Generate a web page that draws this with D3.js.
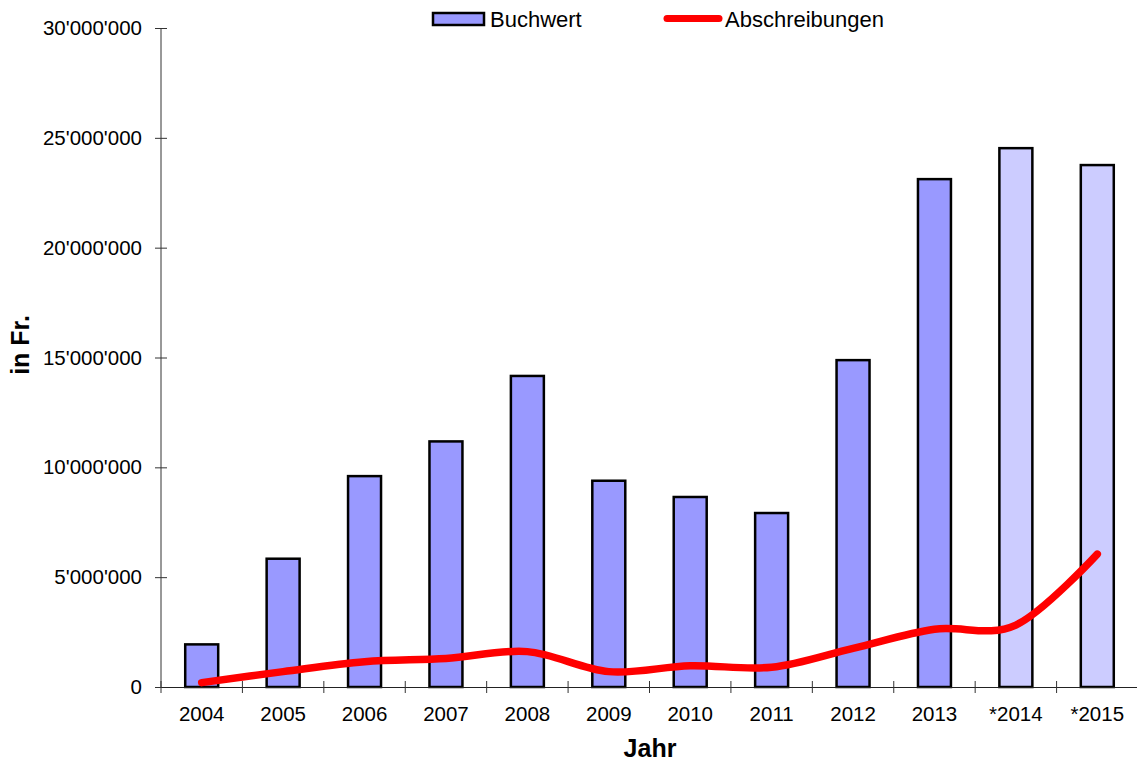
<!DOCTYPE html>
<html>
<head>
<meta charset="utf-8">
<script src="https://cdn.jsdelivr.net/npm/d3@7"></script>
<style>
  html, body { margin: 0; padding: 0; background: #fff; }
  svg { display: block; font-family: "Liberation Sans", Arial, sans-serif; }
</style>
</head>
<body>
<svg id="chart" width="1137" height="762"></svg>
<script>
// Jahre (mit * = Budget/Prognose)
const years = ["2004", "2005", "2006", "2007", "2008", "2009", "2010", "2011", "2012", "2013", "*2014", "*2015"];
// Buchwert in Fr.
const buchwert = [1940000, 5840000, 9600000, 11180000, 14160000, 9390000, 8650000, 7920000, 14880000, 23120000, 24530000, 23760000];
// Abschreibungen in Fr.
const abschreibungen = [200000, 700000, 1150000, 1300000, 1610000, 700000, 970000, 900000, 1760000, 2630000, 2820000, 6050000];
// Prognosejahre werden heller dargestellt
const prognose = [false, false, false, false, false, false, false, false, false, false, true, true];
const yTicks = [0, 5000000, 10000000, 15000000, 20000000, 25000000, 30000000];

const svg = d3.select("#chart");
const plotLeft = 161, plotRight = 1138, plotTop = 28, plotBottom = 687;

const x = d3.scaleBand().domain(years).range([plotLeft, plotRight]).padding(0);
const y = d3.scaleLinear().domain([0, 30000000]).range([plotBottom, plotTop]);
const fmt = d3.formatLocale({ decimal: ".", thousands: "'", grouping: [3], currency: ["", ""] }).format(",d");

const barW = x.bandwidth() * 0.405;
const colBar = "#9999FF", colBarLight = "#CCCCFF";

// Balken
svg.append("g").selectAll("rect")
  .data(years.map((d, i) => ({ year: d, value: buchwert[i], light: prognose[i] })))
  .join("rect")
  .attr("x", d => x(d.year) + x.bandwidth() / 2 - barW / 2)
  .attr("y", d => y(d.value))
  .attr("width", barW)
  .attr("height", d => y(0) - y(d.value))
  .attr("fill", d => d.light ? colBarLight : colBar)
  .attr("stroke", "#000")
  .attr("stroke-width", 2.5);

// Y-Achse
const yAxis = svg.append("g")
  .attr("transform", `translate(${plotLeft},0)`)
  .call(d3.axisLeft(y).tickValues(yTicks).tickFormat(fmt).tickSize(6).tickSizeOuter(0));
yAxis.select(".domain").attr("stroke", "#333").attr("d", `M0,${plotTop}V${plotBottom}`);
yAxis.selectAll(".tick line").attr("stroke", "#333").attr("x1", 6);
yAxis.selectAll(".tick text")
  .attr("x", -19)
  .attr("font-size", 20.5)
  .attr("font-family", "Liberation Sans, Arial, sans-serif")
  .attr("fill", "#000");

// X-Achse
const xAxis = svg.append("g")
  .attr("transform", `translate(0,${plotBottom})`)
  .call(d3.axisBottom(x).tickSize(0).tickSizeOuter(0));
xAxis.select(".domain").attr("stroke", "#222");
xAxis.selectAll(".tick text")
  .attr("y", 0)
  .attr("dy", 34)
  .attr("font-size", 20.5)
  .attr("font-family", "Liberation Sans, Arial, sans-serif")
  .attr("fill", "#000");
// Trennstriche zwischen den Kategorien
xAxis.append("g").selectAll("line")
  .data(years.concat(["end"]))
  .join("line")
  .attr("x1", (d, i) => plotLeft + i * x.step())
  .attr("x2", (d, i) => plotLeft + i * x.step())
  .attr("y1", -6)
  .attr("y2", 6)
  .attr("stroke", "#333");

// Abschreibungen als geglättete Linie
const line = d3.line()
  .x((d, i) => x(years[i]) + x.bandwidth() / 2)
  .y(d => y(d))
  .curve(d3.curveCatmullRom.alpha(0));
svg.append("path")
  .datum(abschreibungen)
  .attr("d", line)
  .attr("fill", "none")
  .attr("stroke", "#FF0000")
  .attr("stroke-width", 7.5)
  .attr("stroke-linecap", "round")
  .attr("stroke-linejoin", "round");

// Achsentitel
svg.append("text")
  .attr("x", 650).attr("y", 757)
  .attr("text-anchor", "middle")
  .attr("font-size", 25).attr("font-weight", "bold")
  .text("Jahr");
svg.append("text")
  .attr("transform", "translate(29,345) rotate(-90)")
  .attr("text-anchor", "middle")
  .attr("font-size", 25).attr("font-weight", "bold")
  .text("in Fr.");

// Legende
const lg = svg.append("g");
lg.append("rect")
  .attr("x", 433).attr("y", 13).attr("width", 51).attr("height", 12)
  .attr("fill", colBar).attr("stroke", "#000").attr("stroke-width", 2.5);
lg.append("text").attr("x", 490).attr("y", 27).attr("font-size", 22).text("Buchwert");
lg.append("line")
  .attr("x1", 667).attr("x2", 719).attr("y1", 18.5).attr("y2", 18.5)
  .attr("stroke", "#FF0000").attr("stroke-width", 7).attr("stroke-linecap", "round");
lg.append("text").attr("x", 725).attr("y", 27).attr("font-size", 22).text("Abschreibungen");
</script>
</body>
</html>
